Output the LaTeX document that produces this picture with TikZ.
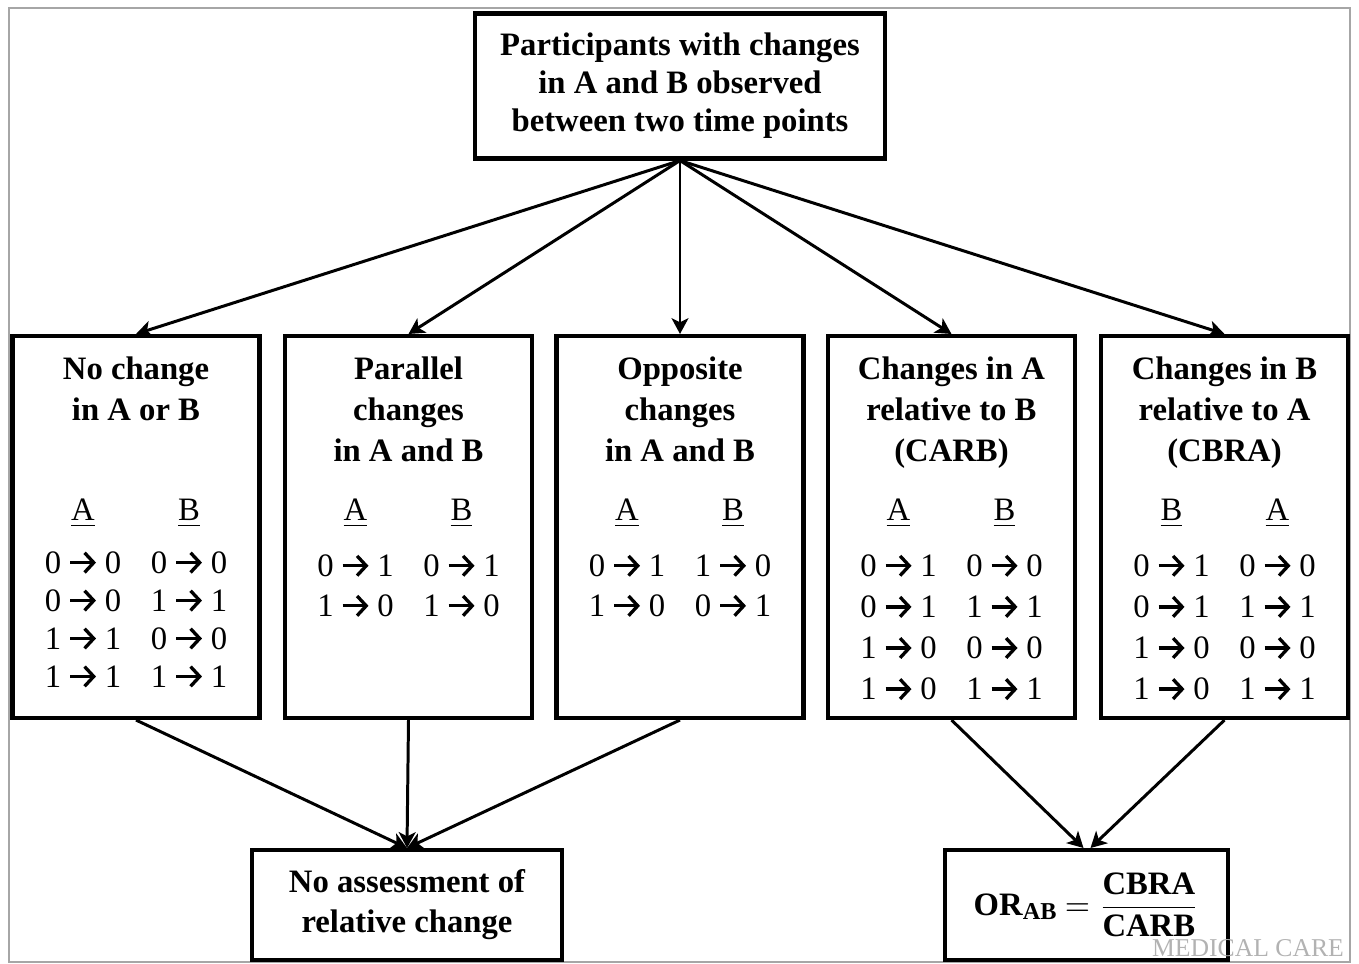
\documentclass[tikz,border=0pt]{standalone}
\usepackage{fontspec}
\setmainfont{Liberation Serif}
\usetikzlibrary{positioning,arrows.meta}

\begin{document}
\begin{tikzpicture}
	\newcommand{\cellw}{1.06cm}
	\newcommand{\boxtop}{-5.27}
	\newcommand{\tto}{\hspace{0.22em}\tikz[baseline=-0.33em]\draw[line width=0.95pt, -{Straight Barb[length=2.6pt,width=5.6pt]}] (0,0) -- (0.26,0);\hspace{0.22em}}
	\newcommand{\trow}[4]{\makebox[\cellw]{#1\tto#2}\makebox[\cellw]{#3\tto#4}}
	\newcommand{\colhead}[2]{\makebox[\cellw]{\underline{#1}}\makebox[\cellw]{\underline{#2}}}
	\tikzset{
		every node/.style={font=\fontsize{9.3}{11.7}\selectfont},
		box/.style={draw, line width=1.15pt, minimum width=2.47cm, minimum height=3.82cm, inner sep=0pt},
		boxtext/.style={align=center, inner sep=0pt},
		link/.style={line width=0.85pt, -{Stealth[length=4.5pt,width=4.8pt,inset=1.2pt]}}
	}
	\useasboundingbox (0,0) rectangle (13.59,-9.63);
	%frame
	\draw [black!35, line width=0.6pt] (0.09,-0.08) rectangle (13.50,-9.62);
	%top box
	\node [box, minimum width=4.10cm, minimum height=1.45cm, align=center,
		font=\fontsize{9.3}{10.8}\selectfont\bfseries] (top) at (6.80,-0.86)
		{Participants with changes\\in A and B observed\\between two time points};
	%five boxes
	\node [box] (b1) at (1.36,\boxtop) {};
	\node [box] (b2) at (4.085,\boxtop) {};
	\node [box] (b3) at (6.80,\boxtop) {};
	\node [box] (b4) at (9.515,\boxtop) {};
	\node [box] (b5) at (12.245,\boxtop) {};
	%box texts
	\node [boxtext, below=0.22cm of b1.north] (c1) {\textbf{No change}\\\textbf{in A or B}\\[16.7pt]
		\colhead{A}{B}\\[3.4pt]
		\trow{0}{0}{0}{0}\\[-0.9pt]
		\trow{0}{0}{1}{1}\\[-0.9pt]
		\trow{1}{1}{0}{0}\\[-0.9pt]
		\trow{1}{1}{1}{1}};
	\node [boxtext, below=0.22cm of b2.north] (c2) {\textbf{Parallel}\\\textbf{changes}\\\textbf{in A and B}\\[5.1pt]
		\colhead{A}{B}\\[4.2pt]
		\trow{0}{1}{0}{1}\\[-0.3pt]
		\trow{1}{0}{1}{0}};
	\node [boxtext, below=0.22cm of b3.north] (c3) {\textbf{Opposite}\\\textbf{changes}\\\textbf{in A and B}\\[5.1pt]
		\colhead{A}{B}\\[4.2pt]
		\trow{0}{1}{1}{0}\\[-0.3pt]
		\trow{1}{0}{0}{1}};
	\node [boxtext, below=0.22cm of b4.north] (c4) {\textbf{Changes in A}\\\textbf{relative to B}\\\textbf{(CARB)}\\[5.1pt]
		\colhead{A}{B}\\[4.2pt]
		\trow{0}{1}{0}{0}\\
		\trow{0}{1}{1}{1}\\
		\trow{1}{0}{0}{0}\\
		\trow{1}{0}{1}{1}};
	\node [boxtext, below=0.22cm of b5.north] (c5) {\textbf{Changes in B}\\\textbf{relative to A}\\\textbf{(CBRA)}\\[5.1pt]
		\colhead{B}{A}\\[4.2pt]
		\trow{0}{1}{0}{0}\\
		\trow{0}{1}{1}{1}\\
		\trow{1}{0}{0}{0}\\
		\trow{1}{0}{1}{1}};
	%bottom boxes
	\node [box, minimum width=3.10cm, minimum height=1.10cm, align=center,
		font=\fontsize{9.3}{11.4}\selectfont\bfseries] (nl) at (4.07,-9.05)
		{No assessment of\\relative change};
	\node [box, minimum width=2.83cm, minimum height=1.10cm] (nr) at (10.865,-9.05)
		{\textbf{OR}\raisebox{-0.3ex}{\fontsize{6.9}{7}\selectfont\bfseries AB} $=$ $\displaystyle\frac{\mbox{\bfseries CBRA}}{\mbox{\bfseries CARB}}$};
	\node [text=black!30, font=\fontsize{7.3}{8}\selectfont] (wm) at (12.48,-9.485) {MEDICAL CARE};
	%top arrows
	\draw [link] (top.south) -- (b1.north);
	\draw [link] (top.south) -- (b2.north);
	\draw [link] (top.south) -- (b3.north);
	\draw [link] (top.south) -- (b4.north);
	\draw [link] (top.south) -- (b5.north);
	%bottom arrows
	\draw [link] (b1.south) -- (nl.north);
	\draw [link] (b2.south) -- (nl.north);
	\draw [link] (b3.south) -- (nl.north);
	\draw [link] (b4.south) -- ([xshift=-0.03cm]nr.north);
	\draw [link] (b5.south) -- ([xshift=0.04cm]nr.north);
\end{tikzpicture}
\end{document}
